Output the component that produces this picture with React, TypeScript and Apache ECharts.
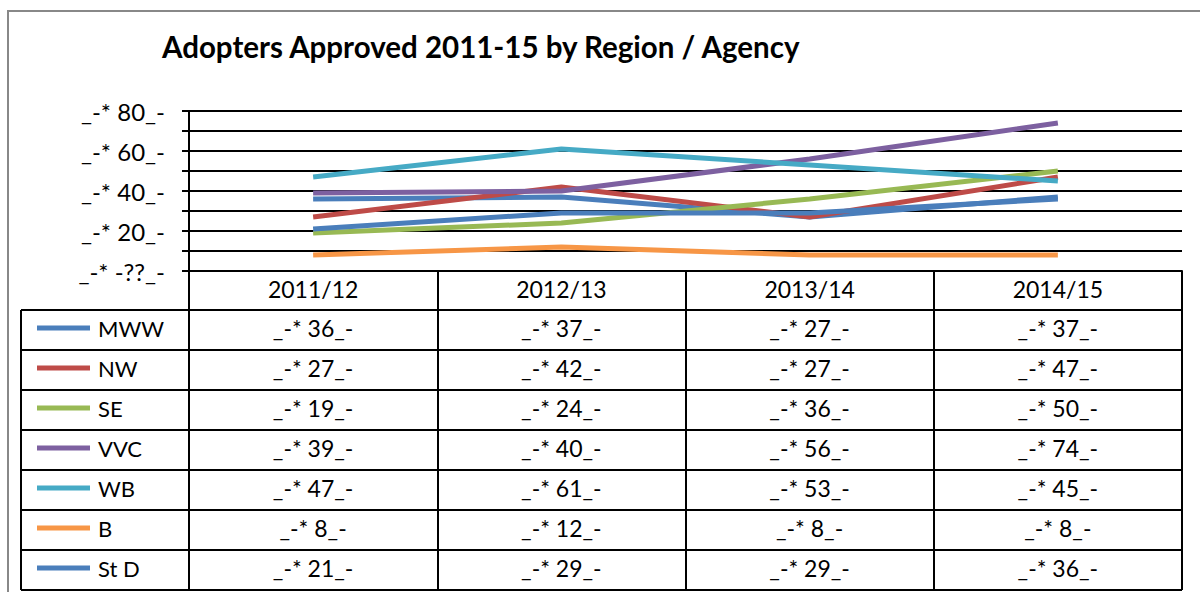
import React, { useEffect, useRef } from "react";
import * as echarts from "echarts";

const TITLE = "Adopters Approved 2011-15 by Region / Agency";
const categories = ["2011/12", "2012/13", "2013/14", "2014/15"];
const seriesNames = ["MWW", "NW", "SE", "VVC", "WB", "B", "St D"];
const seriesColors = ["#4A7EBB", "#BE4B48", "#98B954", "#7D60A0", "#46AAC5", "#F79646", "#4A7EBB"];
const mww = [36, 37, 27, 37];
const nw = [27, 42, 27, 47];
const se = [19, 24, 36, 50];
const vvc = [39, 40, 56, 74];
const wb = [47, 61, 53, 45];
const b = [8, 12, 8, 8];
const stD = [21, 29, 29, 36];
const seriesValues = [mww, nw, se, vvc, wb, b, stD];
const yTicks = { min: 0, max: 80, interval: 10, labelStep: 20 };

const FONT = "Lato, 'Open Sans', sans-serif";
const fmt = (v: number) => (v === 0 ? "_-* -??_-" : `_-* ${v}_-`);

export default function App() {
  const ref = useRef<HTMLDivElement>(null);
  useEffect(() => {
    if (!ref.current) return;
    const chart = echarts.init(ref.current, null, { renderer: "svg" });
    const gridLeft = 189;
    const gridRight = 1182;
    const gridTop = 111;
    const gridBottom = 271;
    const rowH = 40;
    const headerH = 39;
    const tableBottom = gridBottom + headerH + rowH * seriesNames.length;
    const cellFont = 23;

    const tableXAxes = seriesValues.map((vals, i) => ({
      type: "category",
      gridIndex: 0,
      position: "bottom",
      offset: headerH + rowH * i,
      data: vals.map(fmt),
      axisLine: { show: false },
      axisTick: { show: false },
      splitLine: { show: false },
      axisLabel: { fontSize: cellFont, color: "#000", fontFamily: FONT, margin: 6, interval: 0 },
    }));

    const graphics: any[] = [
      {
        type: "rect",
        shape: { x: 8, y: 11, width: 1400, height: 800 },
        style: { fill: "none", stroke: "#888", lineWidth: 2 },
        z: 0,
      },
      {
        type: "line",
        shape: { x1: 21, y1: gridBottom + headerH, x2: 21, y2: tableBottom },
        style: { stroke: "#000", lineWidth: 2 },
        z: 10,
      },
    ];
    for (let i = 0; i <= seriesNames.length; i++) {
      const y = gridBottom + headerH + rowH * i;
      graphics.push({
        type: "line",
        shape: { x1: 21, y1: y, x2: gridRight, y2: y },
        style: { stroke: "#000", lineWidth: 2 },
        z: 10,
      });
    }

    chart.setOption({
      animation: false,
      backgroundColor: "#fff",
      title: {
        text: TITLE,
        left: 157,
        top: 26,
        textStyle: { fontSize: 29.5, fontWeight: "bold", color: "#000", fontFamily: FONT },
      },
      legend: {
        orient: "vertical",
        left: 32,
        top: gridBottom + headerH + 1,
        itemWidth: 53,
        itemHeight: 5,
        itemGap: 16,
        icon: "rect",
        selectedMode: false,
        data: seriesNames,
        textStyle: { fontSize: 22, color: "#000", fontFamily: FONT, lineHeight: 24, padding: [0, 0, 0, 3] },
      },
      grid: {
        left: gridLeft,
        top: gridTop,
        width: gridRight - gridLeft,
        height: gridBottom - gridTop,
        containLabel: false,
      },
      xAxis: [
        {
          type: "category",
          data: categories,
          boundaryGap: true,
          axisLine: { show: true, lineStyle: { color: "#000", width: 2 } },
          axisTick: {
            show: true,
            interval: 0,
            length: tableBottom - gridBottom,
            lineStyle: { color: "#000", width: 2 },
          },
          axisLabel: { fontSize: cellFont, color: "#000", fontFamily: FONT, margin: 6, interval: 0 },
        },
        ...tableXAxes,
      ],
      yAxis: {
        type: "value",
        min: yTicks.min,
        max: yTicks.max,
        interval: yTicks.interval,
        axisLine: { show: true, lineStyle: { color: "#000", width: 2 } },
        axisTick: { show: true, length: 7, lineStyle: { color: "#000", width: 2 } },
        splitLine: { show: true, lineStyle: { color: "#000", width: 2 } },
        axisLabel: {
          fontSize: 24,
          color: "#000",
          fontFamily: FONT,
          margin: 24,
          formatter: (v: number) => (v % yTicks.labelStep === 0 ? fmt(v) : ""),
        },
      },
      series: seriesNames.map((name, i) => ({
        name,
        type: "line",
        xAxisIndex: 0,
        data: seriesValues[i],
        showSymbol: false,
        symbol: "none",
        color: seriesColors[i],
        lineStyle: { width: 5, color: seriesColors[i] },
      })),
      graphic: graphics,
    });
    return () => chart.dispose();
  }, []);
  return (
    <div
      ref={ref}
      style={{ position: "absolute", left: 0, top: 0, width: 1200, height: 592 }}
    />
  );
}
